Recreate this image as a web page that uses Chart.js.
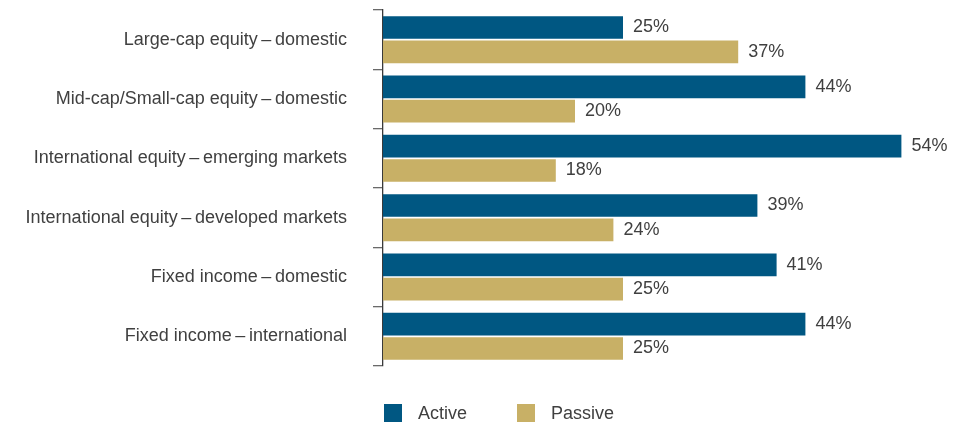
<!DOCTYPE html>
<html>
<head>
<meta charset="utf-8">
<script src="https://cdn.jsdelivr.net/npm/chart.js@4"></script>
<style>
  html, body { margin: 0; padding: 0; background: #fff; }
  #wrap { width: 962px; height: 428px; position: relative; }
</style>
</head>
<body>
<div id="wrap"><canvas id="c" width="962" height="428"></canvas></div>
<script>
const categories = [
  'Large-cap equity\u2009\u2013\u2009domestic',
  'Mid-cap/Small-cap equity\u2009\u2013\u2009domestic',
  'International equity\u2009\u2013\u2009emerging markets',
  'International equity\u2009\u2013\u2009developed markets',
  'Fixed income\u2009\u2013\u2009domestic',
  'Fixed income\u2009\u2013\u2009international'
];
const activeValues = [25, 44, 54, 39, 41, 44];
const passiveValues = [37, 20, 18, 24, 25, 25];
const seriesNames = ['Active', 'Passive'];

const FONT = '"Liberation Sans", Arial, sans-serif';
const TEXT = '#404040';

// value labels at the end of each bar
const valueLabels = {
  id: 'valueLabels',
  afterDatasetsDraw(chart) {
    const ctx = chart.ctx;
    ctx.save();
    ctx.font = '18px ' + FONT;
    ctx.fillStyle = TEXT;
    ctx.textBaseline = 'middle';
    ctx.textAlign = 'left';
    chart.data.datasets.forEach((ds, i) => {
      chart.getDatasetMeta(i).data.forEach((bar, j) => {
        ctx.fillText(ds.data[j] + '%', bar.x + 10, bar.y);
      });
    });
    ctx.restore();
  }
};

// legend row under the plot, aligned with the value axis origin
const bottomLegend = {
  id: 'bottomLegend',
  afterDraw(chart) {
    const ctx = chart.ctx;
    const x0 = chart.chartArea.left + 1;
    const y = 404;
    const offsets = [0, 133];
    ctx.save();
    ctx.font = '18px ' + FONT;
    ctx.textBaseline = 'middle';
    chart.data.datasets.forEach((ds, i) => {
      const x = x0 + offsets[i];
      ctx.fillStyle = ds.backgroundColor;
      ctx.fillRect(x, y, 18, 18);
      ctx.fillStyle = TEXT;
      ctx.fillText(ds.label, x + 34, y + 10);
    });
    ctx.restore();
  }
};

new Chart(document.getElementById('c'), {
  type: 'bar',
  data: {
    labels: categories,
    datasets: [
      { label: seriesNames[0], data: activeValues, backgroundColor: '#005782' },
      { label: seriesNames[1], data: passiveValues, backgroundColor: '#c8b066' }
    ]
  },
  options: {
    indexAxis: 'y',
    responsive: false,
    animation: false,
    events: [],
    categoryPercentage: 0.82,
    barPercentage: 0.93,
    layout: { padding: { top: 10, right: 3, bottom: 62, left: 0 } },
    plugins: {
      legend: { display: false },
      tooltip: { enabled: false }
    },
    scales: {
      x: {
        display: false,
        min: 0,
        max: 60
      },
      y: {
        offset: true,
        afterFit(scale) {
          scale.width = 383;
          scale.paddingTop = 0;
          scale.paddingBottom = 0;
        },
        border: { display: true, color: '#3a3a3a', width: 1.3 },
        grid: {
          offset: true,
          drawOnChartArea: false,
          drawTicks: true,
          tickLength: 10,
          color: '#6a6a6a',
          lineWidth: 1.3
        },
        ticks: {
          padding: 26,
          color: TEXT,
          font: { family: FONT, size: 18 }
        }
      }
    }
  },
  plugins: [valueLabels, bottomLegend]
});
</script>
</body>
</html>
